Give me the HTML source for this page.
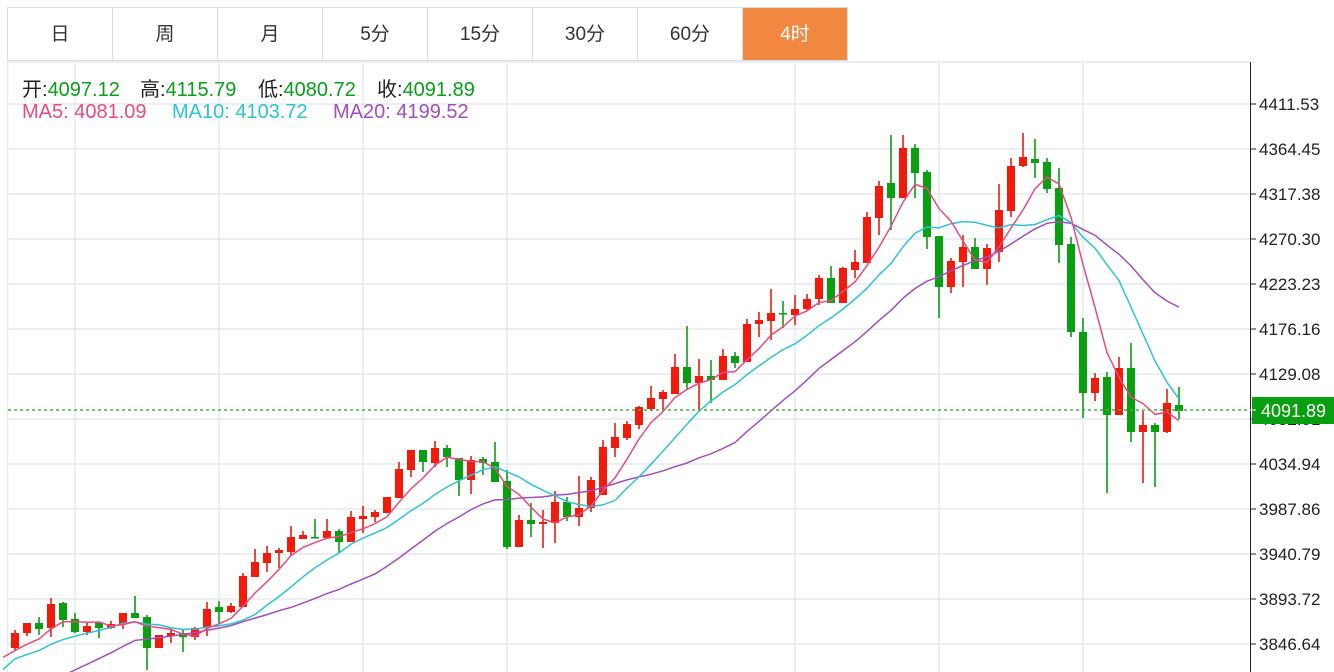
<!DOCTYPE html>
<html><head><meta charset="utf-8">
<style>
html,body{margin:0;padding:0;background:#fff;width:1334px;height:672px;overflow:hidden;font-family:"Liberation Sans","Noto Sans CJK SC",sans-serif;}
.tabs{position:absolute;left:7px;top:7px;height:54px;display:flex;border:1px solid #dcdcdc;border-right:none;box-sizing:border-box;}
.tab{width:105px;height:52px;line-height:54px;text-align:center;font-size:19px;color:#333;border-right:1px solid #dcdcdc;box-sizing:border-box;}
.tab.on{background:#f0893f;color:#fff;}
.i{position:absolute;font-size:20px;white-space:nowrap;color:#222;}
.g{color:#08a018}
svg{position:absolute;left:0;top:0}
</style></head><body>
<svg id="c" width="1334" height="672"></svg>
<div class="tabs"><div class="tab">日</div><div class="tab">周</div><div class="tab">月</div><div class="tab">5分</div><div class="tab">15分</div><div class="tab">30分</div><div class="tab">60分</div><div class="tab on">4时</div></div>
<div class="i" style="left:22px;top:73px">开:<span class="g">4097.12</span></div>
<div class="i" style="left:140px;top:73px">高:<span class="g">4115.79</span></div>
<div class="i" style="left:258px;top:73px">低:<span class="g">4080.72</span></div>
<div class="i" style="left:377px;top:73px">收:<span class="g">4091.89</span></div>
<div class="i" style="left:22px;top:101px;color:#ea4a7e">MA5: 4081.09</div>
<div class="i" style="left:172px;top:101px;color:#2cc3d9">MA10: 4103.72</div>
<div class="i" style="left:333px;top:101px;color:#a44cc0">MA20: 4199.52</div>
<script>
var D=[
['R',633,648,630,651],['R',623,633,623,636],['G',623,629,617,635],['R',604,628,598,637],['G',603,620,602,627],
['G',619,632,613,633],['R',626,632,622,635],['G',623,628,622,638],['R',624,628,621,629],['R',613,624,613,629],
['G',613,618,596,618],['G',617,648,615,670],['R',635,648,635,648],['R',633,636,629,643],['G',633,637,629,652],
['R',628,637,627,640],['R',609,628,602,636],['G',607,612,601,623],['R',606,612,603,613],['R',576,607,573,607],
['R',562,577,549,577],['R',553,563,546,572],['R',550,553,548,568],['R',537,552,526,555],['R',535,539,531,539],
['G',537,538,519,538],['R',531,538,519,538],['G',531,542,529,553],['R',517,542,511,542],['R',516,519,506,533],
['R',512,517,510,522],['R',497,513,497,513],['R',469,498,462,498],['R',450,470,450,477],['G',450,462,450,472],
['R',448,463,441,467],['G',448,457,445,467],['G',458,480,458,496],['R',460,480,456,494],['G',459,463,457,475],
['G',462,482,442,482],['G',481,547,470,549],['R',520,547,515,547],['G',520,524,503,537],['R',522,524,510,548],
['R',502,523,491,543],['G',502,517,497,521],['R',508,517,476,526],['R',480,508,477,512],['R',447,495,440,495],
['R',437,448,423,457],['R',424,438,421,440],['R',407,425,406,429],['R',398,409,386,411],['R',392,399,390,410],
['R',367,394,354,394],['G',367,383,326,390],['R',376,383,359,410],['G',376,380,360,403],['R',356,380,349,380],
['G',356,363,352,368],['R',324,362,319,362],['R',320,324,312,337],['R',313,321,289,340],['G',313,314,301,328],
['R',309,315,295,325],['R',299,309,294,310],['R',278,299,275,305],['G',278,303,266,303],['R',268,303,267,303],
['R',262,270,250,278],['R',217,263,212,263],['R',186,218,181,235],['G',183,198,135,230],['R',148,198,135,198],
['G',148,173,144,198],['G',172,237,170,249],['G',236,287,236,318],['R',261,287,258,293],['R',247,262,235,287],
['G',247,269,238,269],['R',248,269,244,285],['R',210,252,184,262],['R',166,211,158,217],['R',157,166,133,167],
['G',159,163,139,178],['G',162,189,158,193],['G',188,245,168,263],['G',244,332,237,337],['G',332,393,318,418],
['R',378,393,373,401],['G',377,415,372,493],['R',368,415,357,415],['G',368,432,343,442],['R',425,432,411,483],
['G',425,432,423,487],['R',403,432,389,433],['G',405,411,387,419]];
var s='';
for(var k=0;k<13;k++){var y=104+45*k;s+='<line x1="8" x2="1250" y1="'+y+'" y2="'+y+'" stroke="#e3eaf1" stroke-width="1.5"/>';}
s+='<line x1="8" x2="1250" y1="62" y2="62" stroke="#e3eaf1" stroke-width="1.5"/>';
[75,219,363,507,795,939,1083].forEach(function(x){s+='<line x1="'+x+'" x2="'+x+'" y1="62" y2="672" stroke="#e3eaf1" stroke-width="1.5"/>';});
s+='<line x1="7.5" x2="7.5" y1="62" y2="672" stroke="#e3eaf1" stroke-width="1.5"/>';
var pad=[741,741,741,741,741,741,741,741,741,741,667,667,667,667,667,655,655,655,655];
var C=pad.slice();
D.forEach(function(d){C.push(d[0]=='R'?d[1]:d[2]);});
function ma(n,col){var pts=[];for(var i=-1;i<D.length;i++){var j=i+19,sum=0;for(var q=0;q<n;q++)sum+=C[Math.max(0,j-q)];pts.push((i<0?3:15+12*i)+','+(sum/n).toFixed(1));}
s+='<polyline points="'+pts.join(' ')+'" fill="none" stroke="'+col+'" stroke-width="1.5"/>';}
D.forEach(function(d,i){var x=15+12*i,c=d[0]=='R'?'#f21a0a':'#08a010';
s+='<line x1="'+x+'" x2="'+x+'" y1="'+d[3]+'" y2="'+d[4]+'" stroke="'+c+'" stroke-width="1.6"/>';
s+='<rect x="'+(x-4)+'" y="'+d[1]+'" width="8" height="'+Math.max(1.5,d[2]-d[1])+'" fill="'+c+'"/>';});
ma(20,'#a44cc0');ma(10,'#2cc3d9');ma(5,'#ea4a7e');
s+='<line x1="8" x2="1250" y1="410" y2="410" stroke="#3cb83c" stroke-width="1.5" stroke-dasharray="3,3"/>';
s+='<line x1="1250.5" x2="1250.5" y1="62" y2="672" stroke="#222" stroke-width="1"/>';
var L=['4411.53','4364.45','4317.38','4270.30','4223.23','4176.16','4129.08','4082.01','4034.94','3987.86','3940.79','3893.72','3846.64'];
L.forEach(function(t,k){var y=104+45*k;s+='<line x1="1250" x2="1256" y1="'+y+'" y2="'+y+'" stroke="#222"/>';
s+='<text x="1259" y="'+(y+6)+'" font-size="17" fill="#222" font-family="Liberation Sans,sans-serif">'+t+'</text>';});
s+='<rect x="1252" y="397" width="82" height="27" fill="#08a010"/>';
s+='<line x1="1250" x2="1256" y1="410" y2="410" stroke="#fff"/>';
s+='<text x="1261" y="417" font-size="18" fill="#fff" font-family="Liberation Sans,sans-serif">4091.89</text>';
document.getElementById('c').innerHTML=s;
</script>
</body></html>
